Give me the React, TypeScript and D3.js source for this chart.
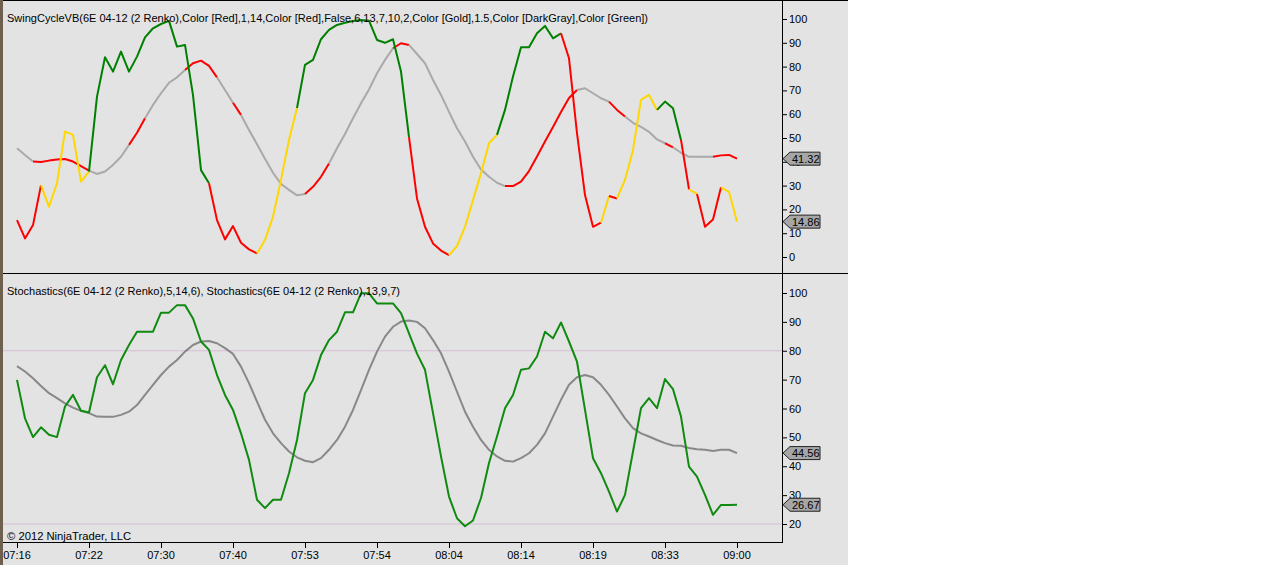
import React from "react"
import * as d3 from "d3"

// bar labels shown under the x axis (every 9th renko bar)
const timeLabels = ["07:16", "07:22", "07:30", "07:40", "07:53", "07:54", "08:04", "08:14", "08:19", "08:33", "09:00"]

// SwingCycleVB fast line
const swingFast = [
  15.5, 7.8, 13.4, 30.2, 21.1, 31, 52.7, 51.3, 31.7, 35.9,
  67.4, 83.9, 77.9, 86.3, 77.9, 84.2, 92.3, 96.1, 97.9, 99.2,
  88.4, 89.1, 68, 36.5, 31, 15.5, 7.4, 13, 6, 3.2,
  1.5, 7.1, 16.9, 32.4, 49.2, 62.6, 80.7, 82.8, 91.5, 95.4,
  97.5, 98.4, 99.2, 99.6, 99.3, 91.2, 90, 91.5, 77.9, 50.4,
  24.6, 12.7, 5.7, 2.7, 0.8, 4.6, 12.7, 23.9, 35.2, 47.8,
  51.3, 61.8, 75.8, 88.1, 88.1, 94, 97.1, 91.9, 94, 83.5,
  52, 26, 12.7, 14.4, 25.6, 24.6, 32.4, 45, 66, 68.1,
  61.8, 65.3, 62.5, 49.2, 28.4, 26.5, 12.7, 15.8, 29.3, 27.4,
  14.86,
]
// colour state of each fast segment: R red, Y gold, G green
const swingFastState =
  "RRRYYYYYYGGGGGGGGGGGGGGGRRRRRRYYYYYGGGGGGGGGGGGGGRRRRRYYYYYYGGGGGGGGRRRRRYRYYYYYGGGRYRRRYY"

// SwingCycleVB slow line
const swingSlow = [
  45.7, 42.9, 40.1, 39.9, 40.5, 41, 41.2, 40.1, 38.2, 36.3,
  34.9, 35.9, 38.7, 42.1, 47.1, 52.2, 58.3, 63.9, 68.8, 73.2,
  75.5, 78.6, 81.4, 82.5, 80.3, 75.5, 70.2, 64.8, 59.7, 53.4,
  47.4, 41.3, 35.4, 30.7, 28.2, 25.9, 26.5, 29.5, 33.7, 39.3,
  45.7, 51.7, 58.3, 64.6, 70.4, 77.2, 82.8, 87.7, 89.8, 89.1,
  85.3, 81.4, 74.4, 68.1, 61, 54.1, 48.5, 42.1, 36.8, 33.7,
  31.2, 29.8, 29.8, 31.7, 36.1, 42.2, 48.5, 54.6, 60.9, 66.8,
  70.2, 70.9, 68.8, 66.7, 65.3, 61.8, 59, 56.4, 54.7, 52.6,
  49.4, 47.8, 46.1, 43.8, 42.1, 42.1, 42.1, 42.1, 42.7, 42.9,
  41.32,
]
// D dark gray, R red
const swingSlowState =
  "DDRRRRRRRDDDDDRRDDDDDRRRRDDRDDDDDDDDRRRDDDDDDDDRRDDDDDDDDDDDDRRRRRRRRRDDDDRRDDDDDRDDDDDRRR"

// Stochastics (5,14,6) and (13,9,7)
const stochFast = [
  69.9, 56.6, 50.1, 53.5, 50.9, 50.1, 60.7, 64.7, 59.2, 58.6,
  70.8, 75, 68.4, 76.8, 82, 86.6, 86.6, 86.6, 93.2, 93.2,
  95.8, 95.8, 91.2, 83.2, 80.3, 71.6, 64.7, 59.5, 51.4, 42.2,
  28.4, 25.5, 28.4, 28.4, 37.6, 49.1, 65.3, 69.9, 78.5, 83.7,
  86.6, 93.3, 93.3, 99.9, 99.9, 96.4, 96.4, 96.4, 93, 86,
  79, 73.4, 58.4, 43.4, 29.5, 22, 19.2, 21.2, 29, 41.1,
  50.3, 60.1, 64.7, 73.4, 73.9, 78, 86.6, 84.3, 89.8, 83.2,
  76.2, 59.5, 42.8, 37.6, 31.2, 24.3, 30.1, 45.1, 60.1, 63.6,
  60.1, 70.2, 66.7, 57.2, 39.9, 36.4, 30.1, 23.2, 26.6, 26.6,
  26.67,
]
const stochSlow = [
  74.7, 72.8, 70.5, 67.8, 65.3, 63.6, 61.8, 60.3, 59.2, 58.4,
  57.2, 57.1, 57.1, 57.8, 58.9, 61.2, 64.7, 68.2, 71.6, 74.5,
  76.8, 79.7, 82, 83.2, 83.4, 82.6, 80.9, 78.9, 74.5, 68.8,
  62.4, 56.1, 51.4, 48, 45.1, 43.1, 41.9, 41.4, 42.8, 45.7,
  49.1, 53.7, 59.5, 66.4, 73.4, 79.7, 84.9, 88.3, 90.1, 90.5,
  90, 87.8, 83.7, 79.1, 72.8, 65.8, 58.9, 53.7, 49.1, 45.7,
  43.4, 41.9, 41.6, 42.8, 44.5, 47.4, 51.4, 57.2, 63, 68.2,
  70.8, 71.6, 70.8, 68.2, 64.7, 60.7, 56.6, 53.2, 51.4, 50.3,
  49.1, 48, 47.2, 47.1, 46.3, 45.9, 45.7, 45.3, 45.7, 45.7,
  44.56,
]

const topTicks = [0, 10, 20, 30, 40, 50, 60, 70, 80, 90, 100]
const botTicks = [20, 30, 40, 50, 60, 70, 80, 90, 100]
const stochLevels = [20, 80]

const topTitle =
  "SwingCycleVB(6E 04-12 (2 Renko),Color [Red],1,14,Color [Red],False,6,13,7,10,2,Color [Gold],1.5,Color [DarkGray],Color [Green])"
const botTitle = "Stochastics(6E 04-12 (2 Renko),5,14,6), Stochastics(6E 04-12 (2 Renko),13,9,7)"

const colorOf: Record<string, string> = {
  R: "#ff0000",
  Y: "#ffd700",
  G: "#008000",
  D: "#a9a9a9",
}

const FONT = "'Liberation Sans', Arial, sans-serif"
const AXIS_X = 782
const CHART_W = 848

// split a line into runs of equal colour state
function runs(values: number[], state: string) {
  const out: { code: string; idx: number[] }[] = []
  for (let k = 0; k < values.length - 1; k++) {
    const c = state[k]
    const last = out[out.length - 1]
    if (last && last.code === c) last.idx.push(k + 1)
    else out.push({ code: c, idx: [k, k + 1] })
  }
  return out
}

function Badge({ y, value }: { y: number; value: number }) {
  const x0 = AXIS_X + 1
  return (
    <g>
      <path
        d={`M${x0},${y} L${x0 + 7},${y - 6.5} L${x0 + 37},${y - 6.5} L${x0 + 37},${y + 6.5} L${x0 + 7},${y + 6.5} Z`}
        fill="#a6a6a6"
        stroke="#222"
        strokeWidth={1}
      />
      <text x={x0 + 9} y={y + 4} fontSize={11} fontFamily={FONT} fill="#000">
        {value.toFixed(2)}
      </text>
    </g>
  )
}

export default function App() {
  const x = d3.scaleLinear().domain([0, swingFast.length - 1]).range([17, 737])
  const yTop = d3.scaleLinear().domain([0, 100]).range([257, 19])
  const yBot = d3.scaleLinear().domain([20, 100]).range([524, 293])

  const lineTop = (idx: number[], vals: number[]) =>
    d3.line<number>().x((i) => x(i)).y((i) => yTop(vals[i]))(idx) || ""
  const lineBot = d3
    .line<number>()
    .x((_, i) => x(i))
    .y((d) => yBot(d))

  return (
    <div style={{ position: "fixed", left: 0, top: 0 }}>
      <svg width={1276} height={565} style={{ display: "block", background: "#fff" }}>
        <rect x={0} y={0} width={CHART_W} height={565} fill="#e3e3e3" />
        <rect x={0} y={0} width={3} height={565} fill="#6e5f4f" />

        {/* top panel: SwingCycleVB */}
        <g>
          {runs(swingSlow, swingSlowState).map((r, i) => (
            <path key={"s" + i} d={lineTop(r.idx, swingSlow)} fill="none" stroke={colorOf[r.code]} strokeWidth={2} strokeLinejoin="round" />
          ))}
          {runs(swingFast, swingFastState).map((r, i) => (
            <path key={"f" + i} d={lineTop(r.idx, swingFast)} fill="none" stroke={colorOf[r.code]} strokeWidth={2} strokeLinejoin="round" />
          ))}
          <text x={7} y={22} fontSize={11} fontFamily={FONT} fill="#000" textLength={641} lengthAdjust="spacingAndGlyphs">
            {topTitle}
          </text>
        </g>

        {/* bottom panel: Stochastics */}
        <g>
          {stochLevels.map((v) => (
            <line key={v} x1={3} x2={AXIS_X} y1={yBot(v)} y2={yBot(v)} stroke="#d6bcd6" strokeWidth={1} />
          ))}
          <path d={lineBot(stochSlow) || ""} fill="none" stroke="#888888" strokeWidth={2} strokeLinejoin="round" />
          <path d={lineBot(stochFast) || ""} fill="none" stroke="#108a10" strokeWidth={2} strokeLinejoin="round" />
          <text x={7} y={295} fontSize={11} fontFamily={FONT} fill="#000" textLength={393} lengthAdjust="spacingAndGlyphs">
            {botTitle}
          </text>
          <text x={7} y={540} fontSize={11} fontFamily={FONT} fill="#000" textLength={124} lengthAdjust="spacingAndGlyphs">
            © 2012 NinjaTrader, LLC
          </text>
        </g>

        {/* frame */}
        <line x1={3} x2={CHART_W} y1={0.5} y2={0.5} stroke="#000" />
        <line x1={3} x2={CHART_W} y1={273.5} y2={273.5} stroke="#000" />
        <line x1={3} x2={AXIS_X} y1={542.5} y2={542.5} stroke="#000" />
        <line x1={AXIS_X + 0.5} x2={AXIS_X + 0.5} y1={0} y2={543} stroke="#000" />

        {/* y axes */}
        {topTicks.map((t) => (
          <g key={"t" + t}>
            <line x1={AXIS_X} x2={AXIS_X + 5} y1={yTop(t) + 0.5} y2={yTop(t) + 0.5} stroke="#000" />
            <text x={AXIS_X + 7} y={yTop(t) + 4} fontSize={11} fontFamily={FONT} fill="#000">
              {t}
            </text>
          </g>
        ))}
        {botTicks.map((t) => (
          <g key={"b" + t}>
            <line x1={AXIS_X} x2={AXIS_X + 5} y1={yBot(t) + 0.5} y2={yBot(t) + 0.5} stroke="#000" />
            <text x={AXIS_X + 7} y={yBot(t) + 4} fontSize={11} fontFamily={FONT} fill="#000">
              {t}
            </text>
          </g>
        ))}

        {/* x axis */}
        {timeLabels.map((lab, i) => {
          const xi = x(i * 9)
          return (
            <g key={lab + i}>
              <line x1={xi + 0.5} x2={xi + 0.5} y1={543} y2={548} stroke="#000" />
              <text x={xi} y={559} fontSize={11} fontFamily={FONT} fill="#000" textAnchor="middle">
                {lab}
              </text>
            </g>
          )
        })}

        {/* last value markers */}
        <Badge y={yTop(swingSlow[swingSlow.length - 1])} value={swingSlow[swingSlow.length - 1]} />
        <Badge y={yTop(swingFast[swingFast.length - 1])} value={swingFast[swingFast.length - 1]} />
        <Badge y={yBot(stochSlow[stochSlow.length - 1])} value={stochSlow[stochSlow.length - 1]} />
        <Badge y={yBot(stochFast[stochFast.length - 1])} value={stochFast[stochFast.length - 1]} />
      </svg>
    </div>
  )
}
